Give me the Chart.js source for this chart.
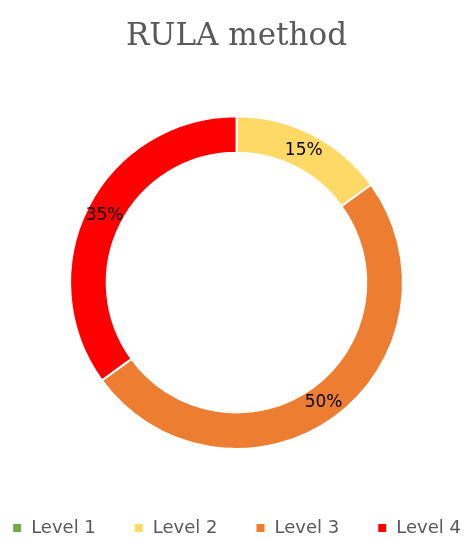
<!DOCTYPE html>
<html>
<head>
<meta charset="utf-8">
<script src="https://cdn.jsdelivr.net/npm/chart.js@4"></script>
<style>
    html, body { margin: 0; padding: 0; background: #ffffff; }
    #wrap { width: 473px; height: 539px; position: relative; }
</style>
</head>
<body>
<div id="wrap"><canvas id="rulaChart"></canvas></div>
<script>
// Données du graphique
const levels = ['Level 1', 'Level 2', 'Level 3', 'Level 4'];
const shares = [0, 15, 50, 35];
const levelColors = ['#70AD47', '#FFD966', '#ED7D31', '#FF0000'];

// Étiquettes de pourcentage au milieu de chaque arc
const sliceLabels = {
    id: 'sliceLabels',
    afterDatasetsDraw(chart) {
        const c = chart.ctx;
        const meta = chart.getDatasetMeta(0);
        c.save();
        c.font = '17px "DejaVu Sans", sans-serif';
        c.fillStyle = '#000000';
        c.textAlign = 'center';
        c.textBaseline = 'middle';
        meta.data.forEach((arc, i) => {
            if (!shares[i]) return;
            const p = arc.tooltipPosition();
            c.fillText(shares[i] + '%', p.x, p.y);
        });
        c.restore();
    }
};

new Chart(document.getElementById('rulaChart'), {
    type: 'doughnut',
    data: {
        labels: levels,
        datasets: [{
            data: shares,
            backgroundColor: levelColors,
            borderColor: '#ffffff',
            borderWidth: 2
        }]
    },
    options: {
        responsive: true,
        maintainAspectRatio: false,
        animation: false,
        cutout: '78%',
        // marges négatives : la légende tient sur une seule ligne
        layout: { padding: { left: -30, right: -30, top: 0, bottom: -8 } },
        plugins: {
            title: {
                display: true,
                text: 'RULA method',
                color: '#595959',
                font: { family: '"DejaVu Serif", "Liberation Serif", serif', size: 31, weight: 'normal' },
                padding: { top: 18, bottom: 60 }
            },
            legend: {
                position: 'bottom',
                title: { display: true, text: '', font: { size: 10 }, padding: { top: 19, bottom: 0 } },
                labels: {
                    color: '#595959',
                    font: { family: '"DejaVu Sans", sans-serif', size: 18 },
                    boxWidth: 10,
                    boxHeight: 10,
                    padding: 38
                }
            },
            tooltip: { enabled: false }
        }
    },
    plugins: [sliceLabels]
});
</script>
</body>
</html>
